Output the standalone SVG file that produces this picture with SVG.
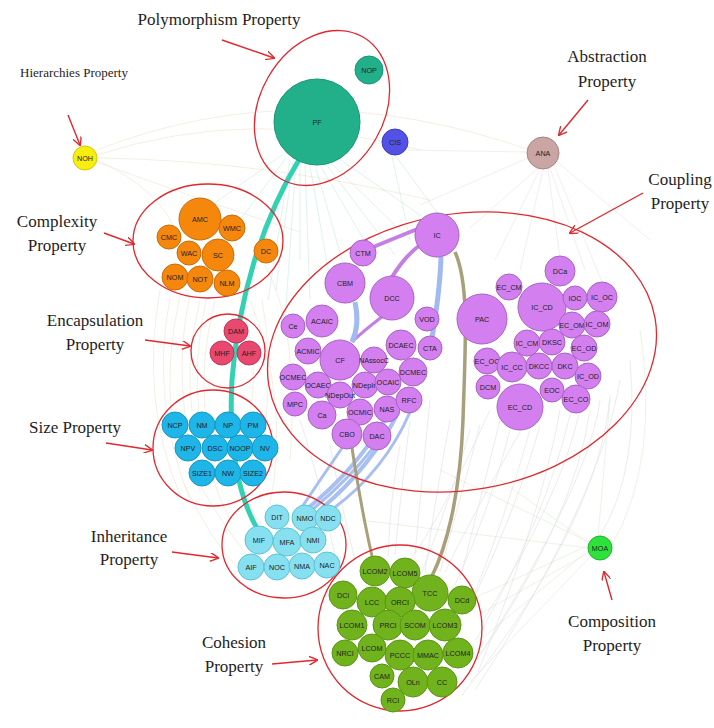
<svg xmlns="http://www.w3.org/2000/svg" width="714" height="728" viewBox="0 0 714 728">
<defs>
<marker id="ah" viewBox="0 0 10 10" refX="9" refY="5" markerWidth="9" markerHeight="9" orient="auto" markerUnits="userSpaceOnUse">
<path d="M0,0 L10,5 L0,10" fill="none" stroke="#e0282e" stroke-width="1.5"/>
</marker>
</defs>
<style>
.lbl{font-family:"Liberation Serif","Times New Roman",serif;font-size:17px;fill:#1e1e1e;text-anchor:middle}
.n text{font-family:"Liberation Sans",Arial,sans-serif;font-size:7.2px;fill:#222;text-anchor:middle;dominant-baseline:central}
.grp{fill:none;stroke:#e0282e;stroke-width:1.3}
.arr{stroke:#e0282e;stroke-width:1.4;fill:none;marker-end:url(#ah)}
.f{fill:none;stroke-width:0.7;opacity:0.45}
.poly circle{fill:#22b08a;stroke:#1a9574}
.cpx circle{fill:#f5870c;stroke:#c96d0a}
.enc circle{fill:#e9496f;stroke:#c2345a}
.siz circle{fill:#1eb5e9;stroke:#1596c4}
.inh circle{fill:#86e0f0;stroke:#5fc2d6}
.cpl circle{fill:#d47ff0;stroke:#a862c4}
.coh circle{fill:#70b31c;stroke:#5a9514}
</style>
<rect width="714" height="728" fill="#ffffff"/>

<g id="connectors">
<g class="f" stroke="#d8d0a8">
<path d="M97,155 Q250,105 420,150"/>
<path d="M97,158 Q260,160 430,200"/>
<path d="M97,162 Q200,200 300,232"/>
<path d="M97,150 Q300,70 530,150"/>
<path d="M97,160 Q160,190 175,230"/>
<path d="M180,296 Q165,360 172,420"/>
<path d="M200,300 Q185,360 192,412"/>
<path d="M215,300 Q200,360 205,410"/>
<path d="M262,300 Q272,350 266,420"/>
<path d="M170,298 Q150,400 190,500"/>
<path d="M250,300 Q290,400 270,505"/>
<path d="M190,296 Q170,380 200,490"/>
<path d="M240,298 Q260,360 250,412"/>
<path d="M160,290 Q140,400 180,495"/>
<path d="M206,300 Q180,420 230,520"/>
<path d="M265,265 Q300,330 290,460"/>
<path d="M200,485 Q220,520 250,560"/>
<path d="M240,487 Q250,510 265,530"/>
<path d="M185,485 Q210,540 240,570"/>
</g>
<g class="f" stroke="#9fd8c0">
<path d="M290,160 L268,300"/>
<path d="M296,162 L285,320"/>
<path d="M305,165 L310,300"/>
<path d="M315,165 L345,270"/>
<path d="M325,163 L395,255"/>
<path d="M338,158 L430,222"/>
<path d="M282,155 L205,210"/>
<path d="M300,164 L300,260"/>
<path d="M310,166 L330,280"/>
<path d="M395,155 L450,230"/>
<path d="M392,156 L410,240"/>
<path d="M293,161 L276,290"/>
<path d="M320,165 L370,250"/>
<path d="M330,162 L410,240"/>
<path d="M286,158 L240,220"/>
</g>
<g class="f" stroke="#e2c8c8">
<path d="M538,168 L470,228"/>
<path d="M543,170 L520,270"/>
<path d="M548,169 L560,258"/>
<path d="M554,165 L602,282"/>
<path d="M528,158 L420,205"/>
<path d="M530,152 L400,150"/>
<path d="M555,160 L650,240"/>
<path d="M540,169 L495,260"/>
<path d="M550,168 L585,270"/>
</g>
<g class="f" stroke="#bfdcae">
<path d="M589,545 L470,600"/>
<path d="M589,550 L480,640"/>
<path d="M598,537 L610,400"/>
<path d="M589,542 L440,470"/>
<path d="M591,556 L470,682"/>
<path d="M612,545 Q660,460 640,330"/>
<path d="M589,548 L360,520"/>
<path d="M590,544 L500,480"/>
<path d="M590,552 L478,615"/>
</g>
<g class="f" stroke="#c4c4c4">
<path d="M500,420 Q480,500 460,580"/>
<path d="M540,425 Q520,500 472,602"/>
<path d="M580,410 Q560,500 482,622"/>
<path d="M520,432 Q470,520 445,572"/>
<path d="M600,400 Q590,480 482,652"/>
<path d="M470,430 Q450,500 422,572"/>
<path d="M490,410 Q440,520 410,560"/>
<path d="M560,410 Q540,520 478,672"/>
<path d="M620,380 Q600,500 475,690"/>
<path d="M300,420 Q320,480 340,580"/>
<path d="M330,445 Q340,500 355,560"/>
<path d="M410,420 Q400,500 395,555"/>
<path d="M430,400 Q420,500 415,555"/>
<path d="M510,430 Q490,510 455,585"/>
<path d="M530,430 Q505,520 466,615"/>
<path d="M570,415 Q545,520 476,640"/>
<path d="M590,410 Q575,520 470,670"/>
<path d="M610,395 Q600,520 462,695"/>
<path d="M480,425 Q460,500 440,572"/>
<path d="M450,420 Q435,500 425,572"/>
<path d="M400,445 Q390,500 388,556"/>
<path d="M630,360 Q640,470 600,536"/>
</g>
<path d="M300,158 C262,220 238,300 232,380 C228,450 240,500 258,530" fill="none" stroke="#33d0b4" stroke-width="5"/>
<path d="M366,250 Q395,238 420,228" fill="none" stroke="#c47ee4" stroke-width="4"/>
<path d="M392,277 Q405,256 420,245" fill="none" stroke="#c47ee4" stroke-width="4"/>
<path d="M383,316 Q362,332 352,342" fill="none" stroke="#c47ee4" stroke-width="3"/>
<path d="M441,257 Q440,290 432,338" fill="none" stroke="#a2baf2" stroke-width="5"/>
<path d="M355,302 Q360,325 352,342" fill="none" stroke="#a2baf2" stroke-width="5"/>
<path d="M385,420 Q355,470 308,508" fill="none" stroke="#a8bff2" stroke-width="4"/>
<path d="M398,413 Q370,468 322,508" fill="none" stroke="#a8bff2" stroke-width="4"/>
<path d="M373,448 Q348,480 312,510" fill="none" stroke="#a8bff2" stroke-width="3"/>
<path d="M410,412 Q385,470 334,508" fill="none" stroke="#a8bff2" stroke-width="3"/>
<path d="M342,448 Q320,480 300,510" fill="none" stroke="#a8bff2" stroke-width="3"/>
<path d="M455,252 C470,285 465,350 463,420 C460,500 445,550 432,576" fill="none" stroke="#a8a07a" stroke-width="3.5"/>
<path d="M352,448 C360,500 366,530 372,556" fill="none" stroke="#a8a07a" stroke-width="3"/>
</g>

<ellipse class="grp" cx="322" cy="108" rx="62" ry="82" transform="rotate(30 322 108)"/>
<ellipse class="grp" cx="208" cy="241" rx="75" ry="57"/>
<circle class="grp" cx="228" cy="351" r="37"/>
<ellipse class="grp" cx="213" cy="448" rx="60" ry="58"/>
<ellipse class="grp" cx="284" cy="545" rx="62" ry="53"/>
<ellipse class="grp" cx="462" cy="352" rx="196" ry="138" transform="rotate(-10 462 352)"/>
<ellipse class="grp" cx="400" cy="628" rx="82" ry="83"/>

<g id="PF" class="n poly"><circle cx="317" cy="122" r="43"/><text x="317" y="122">PF</text></g>
<g id="NOP" class="n poly"><circle cx="369" cy="70" r="14"/><text x="369" y="70">NOP</text></g>
<g id="CIS" class="n"><circle cx="395" cy="142" r="13" fill="#5252e6" stroke="#3c3cc0"/><text x="395" y="142">CIS</text></g>
<g id="NOH" class="n"><circle cx="85" cy="158" r="12" fill="#f6ee10" stroke="#d6c800"/><text x="85" y="158">NOH</text></g>
<g id="ANA" class="n"><circle cx="543" cy="153" r="16" fill="#c9a5a3" stroke="#a88482"/><text x="543" y="153">ANA</text></g>
<g id="MOA" class="n"><circle cx="600" cy="548" r="12" fill="#2ee23c" stroke="#1fb42a"/><text x="600" y="548">MOA</text></g>

<g id="AMC" class="n cpx"><circle cx="200" cy="219" r="21"/><text x="200" y="219">AMC</text></g>
<g id="CMC" class="n cpx"><circle cx="169" cy="237" r="12"/><text x="169" y="237">CMC</text></g>
<g id="WMC" class="n cpx"><circle cx="232" cy="228" r="13"/><text x="232" y="228">WMC</text></g>
<g id="WAC" class="n cpx"><circle cx="189" cy="253" r="12"/><text x="189" y="253">WAC</text></g>
<g id="SC" class="n cpx"><circle cx="218" cy="255" r="16"/><text x="218" y="255">SC</text></g>
<g id="DC" class="n cpx"><circle cx="266" cy="251" r="12"/><text x="266" y="251">DC</text></g>
<g id="NOM" class="n cpx"><circle cx="175" cy="277" r="13"/><text x="175" y="277">NOM</text></g>
<g id="NOT" class="n cpx"><circle cx="200" cy="279" r="13"/><text x="200" y="279">NOT</text></g>
<g id="NLM" class="n cpx"><circle cx="227" cy="283" r="13"/><text x="227" y="283">NLM</text></g>

<g id="DAM" class="n enc"><circle cx="236" cy="331" r="12"/><text x="236" y="331">DAM</text></g>
<g id="MHF" class="n enc"><circle cx="222" cy="353" r="12"/><text x="222" y="353">MHF</text></g>
<g id="AHF" class="n enc"><circle cx="249" cy="353" r="12"/><text x="249" y="353">AHF</text></g>

<g id="NCP" class="n siz"><circle cx="175" cy="425" r="13"/><text x="175" y="425">NCP</text></g>
<g id="NM" class="n siz"><circle cx="202" cy="425" r="13"/><text x="202" y="425">NM</text></g>
<g id="NP" class="n siz"><circle cx="228" cy="425" r="13"/><text x="228" y="425">NP</text></g>
<g id="PM" class="n siz"><circle cx="253" cy="425" r="13"/><text x="253" y="425">PM</text></g>
<g id="NPV" class="n siz"><circle cx="188" cy="448" r="13"/><text x="188" y="448">NPV</text></g>
<g id="DSC" class="n siz"><circle cx="215" cy="448" r="13"/><text x="215" y="448">DSC</text></g>
<g id="NOOP" class="n siz"><circle cx="240" cy="448" r="13"/><text x="240" y="448">NOOP</text></g>
<g id="NV" class="n siz"><circle cx="265" cy="448" r="13"/><text x="265" y="448">NV</text></g>
<g id="SIZE1" class="n siz"><circle cx="202" cy="473" r="13"/><text x="202" y="473">SIZE1</text></g>
<g id="NW" class="n siz"><circle cx="228" cy="473" r="13"/><text x="228" y="473">NW</text></g>
<g id="SIZE2" class="n siz"><circle cx="253" cy="473" r="13"/><text x="253" y="473">SIZE2</text></g>

<g id="DIT" class="n inh"><circle cx="277" cy="517" r="12"/><text x="277" y="517">DIT</text></g>
<g id="NMO" class="n inh"><circle cx="305" cy="518" r="13"/><text x="305" y="518">NMO</text></g>
<g id="NDC" class="n inh"><circle cx="328" cy="518" r="13"/><text x="328" y="518">NDC</text></g>
<g id="MIF" class="n inh"><circle cx="259" cy="540" r="14"/><text x="259" y="540">MIF</text></g>
<g id="MFA" class="n inh"><circle cx="287" cy="542" r="14"/><text x="287" y="542">MFA</text></g>
<g id="NMI" class="n inh"><circle cx="313" cy="540" r="13"/><text x="313" y="540">NMI</text></g>
<g id="AIF" class="n inh"><circle cx="251" cy="567" r="13"/><text x="251" y="567">AIF</text></g>
<g id="NOC" class="n inh"><circle cx="277" cy="567" r="13"/><text x="277" y="567">NOC</text></g>
<g id="NMA" class="n inh"><circle cx="302" cy="566" r="13"/><text x="302" y="566">NMA</text></g>
<g id="NAC" class="n inh"><circle cx="327" cy="565" r="13"/><text x="327" y="565">NAC</text></g>

<g id="IC" class="n cpl"><circle cx="437" cy="235" r="22"/><text x="437" y="235">IC</text></g>
<g id="CTM" class="n cpl"><circle cx="363" cy="253" r="13"/><text x="363" y="253">CTM</text></g>
<g id="CBM" class="n cpl"><circle cx="345" cy="283" r="20"/><text x="345" y="283">CBM</text></g>
<g id="DCC" class="n cpl"><circle cx="392" cy="298" r="22"/><text x="392" y="298">DCC</text></g>
<g id="VOD" class="n cpl"><circle cx="427" cy="319" r="12"/><text x="427" y="319">VOD</text></g>
<g id="Ce" class="n cpl"><circle cx="293" cy="326" r="12"/><text x="293" y="326">Ce</text></g>
<g id="ACAIC" class="n cpl"><circle cx="322" cy="321" r="16"/><text x="322" y="321">ACAIC</text></g>
<g id="PAC" class="n cpl"><circle cx="482" cy="319" r="25"/><text x="482" y="319">PAC</text></g>
<g id="ACMIC" class="n cpl"><circle cx="308" cy="351" r="13"/><text x="308" y="351">ACMIC</text></g>
<g id="CF" class="n cpl"><circle cx="340" cy="360" r="20"/><text x="340" y="360">CF</text></g>
<g id="NAssocC" class="n cpl"><circle cx="374" cy="360" r="13"/><text x="374" y="360">NAssocC</text></g>
<g id="DCAEC" class="n cpl"><circle cx="401" cy="345" r="15"/><text x="401" y="345">DCAEC</text></g>
<g id="CTA" class="n cpl"><circle cx="430" cy="348" r="12"/><text x="430" y="348">CTA</text></g>
<g id="OCMEC" class="n cpl"><circle cx="293" cy="377" r="13"/><text x="293" y="377">OCMEC</text></g>
<g id="DCMEC" class="n cpl"><circle cx="413" cy="372" r="14"/><text x="413" y="372">DCMEC</text></g>
<g id="OCAEC" class="n cpl"><circle cx="318" cy="385" r="13"/><text x="318" y="385">OCAEC</text></g>
<g id="NDepIn" class="n cpl"><circle cx="365" cy="385" r="13"/><text x="365" y="385">NDepIn</text></g>
<g id="OCAIC" class="n cpl"><circle cx="388" cy="382" r="13"/><text x="388" y="382">OCAIC</text></g>
<g id="NDepOut" class="n cpl"><circle cx="340" cy="395" r="13"/><text x="340" y="395">NDepOut</text></g>
<g id="MPC" class="n cpl"><circle cx="295" cy="404" r="12"/><text x="295" y="404">MPC</text></g>
<g id="Ca" class="n cpl"><circle cx="322" cy="415" r="14"/><text x="322" y="415">Ca</text></g>
<g id="OCMIC" class="n cpl"><circle cx="360" cy="412" r="13"/><text x="360" y="412">OCMIC</text></g>
<g id="NAS" class="n cpl"><circle cx="387" cy="409" r="13"/><text x="387" y="409">NAS</text></g>
<g id="RFC" class="n cpl"><circle cx="409" cy="400" r="13"/><text x="409" y="400">RFC</text></g>
<g id="CBO" class="n cpl"><circle cx="347" cy="434" r="15"/><text x="347" y="434">CBO</text></g>
<g id="DAC" class="n cpl"><circle cx="377" cy="436" r="14"/><text x="377" y="436">DAC</text></g>

<g id="DCa" class="n cpl"><circle cx="560" cy="271" r="15"/><text x="560" y="271">DCa</text></g>
<g id="EC_CM" class="n cpl"><circle cx="509" cy="287" r="13"/><text x="509" y="287">EC_CM</text></g>
<g id="IC_CD" class="n cpl"><circle cx="542" cy="307" r="24"/><text x="542" y="307">IC_CD</text></g>
<g id="IOC" class="n cpl"><circle cx="575" cy="298" r="12"/><text x="575" y="298">IOC</text></g>
<g id="IC_OC" class="n cpl"><circle cx="602" cy="297" r="15"/><text x="602" y="297">IC_OC</text></g>
<g id="EC_OM" class="n cpl"><circle cx="572" cy="325" r="13"/><text x="572" y="325">EC_OM</text></g>
<g id="IC_OM" class="n cpl"><circle cx="597" cy="324" r="13"/><text x="597" y="324">IC_OM</text></g>
<g id="IC_CM" class="n cpl"><circle cx="527" cy="343" r="13"/><text x="527" y="343">IC_CM</text></g>
<g id="DKSC" class="n cpl"><circle cx="552" cy="342" r="13"/><text x="552" y="342">DKSC</text></g>
<g id="EC_OD" class="n cpl"><circle cx="584" cy="348" r="13"/><text x="584" y="348">EC_OD</text></g>
<g id="EC_OC" class="n cpl"><circle cx="487" cy="361" r="13"/><text x="487" y="361">EC_OC</text></g>
<g id="IC_CC" class="n cpl"><circle cx="512" cy="367" r="15"/><text x="512" y="367">IC_CC</text></g>
<g id="DKCC" class="n cpl"><circle cx="539" cy="366" r="13"/><text x="539" y="366">DKCC</text></g>
<g id="DKC" class="n cpl"><circle cx="565" cy="366" r="13"/><text x="565" y="366">DKC</text></g>
<g id="IC_OD" class="n cpl"><circle cx="588" cy="376" r="13"/><text x="588" y="376">IC_OD</text></g>
<g id="DCM" class="n cpl"><circle cx="488" cy="387" r="12"/><text x="488" y="387">DCM</text></g>
<g id="EOC" class="n cpl"><circle cx="552" cy="390" r="12"/><text x="552" y="390">EOC</text></g>
<g id="EC_CO" class="n cpl"><circle cx="576" cy="399" r="14"/><text x="576" y="399">EC_CO</text></g>
<g id="EC_CD" class="n cpl"><circle cx="520" cy="407" r="23"/><text x="520" y="407">EC_CD</text></g>

<g id="LCOM2" class="n coh"><circle cx="375" cy="571" r="15"/><text x="375" y="571">LCOM2</text></g>
<g id="LCOM5" class="n coh"><circle cx="405" cy="573" r="15"/><text x="405" y="573">LCOM5</text></g>
<g id="DCi" class="n coh"><circle cx="343" cy="595" r="14"/><text x="343" y="595">DCi</text></g>
<g id="TCC" class="n coh"><circle cx="430" cy="593" r="18"/><text x="430" y="593">TCC</text></g>
<g id="LCC" class="n coh"><circle cx="372" cy="602" r="15"/><text x="372" y="602">LCC</text></g>
<g id="ORCI" class="n coh"><circle cx="400" cy="602" r="15"/><text x="400" y="602">ORCI</text></g>
<g id="DCd" class="n coh"><circle cx="462" cy="600" r="14"/><text x="462" y="600">DCd</text></g>
<g id="LCOM1" class="n coh"><circle cx="352" cy="625" r="15"/><text x="352" y="625">LCOM1</text></g>
<g id="PRCI" class="n coh"><circle cx="388" cy="625" r="15"/><text x="388" y="625">PRCI</text></g>
<g id="SCOM" class="n coh"><circle cx="415" cy="625" r="15"/><text x="415" y="625">SCOM</text></g>
<g id="LCOM3" class="n coh"><circle cx="445" cy="625" r="16"/><text x="445" y="625">LCOM3</text></g>
<g id="NRCI" class="n coh"><circle cx="345" cy="653" r="13"/><text x="345" y="653">NRCI</text></g>
<g id="LCOM" class="n coh"><circle cx="372" cy="648" r="14"/><text x="372" y="648">LCOM</text></g>
<g id="PCCC" class="n coh"><circle cx="400" cy="655" r="15"/><text x="400" y="655">PCCC</text></g>
<g id="MMAC" class="n coh"><circle cx="428" cy="655" r="15"/><text x="428" y="655">MMAC</text></g>
<g id="LCOM4" class="n coh"><circle cx="458" cy="653" r="15"/><text x="458" y="653">LCOM4</text></g>
<g id="CAM" class="n coh"><circle cx="382" cy="676" r="12"/><text x="382" y="676">CAM</text></g>
<g id="OLn" class="n coh"><circle cx="413" cy="682" r="15"/><text x="413" y="682">OLn</text></g>
<g id="CC" class="n coh"><circle cx="442" cy="682" r="15"/><text x="442" y="682">CC</text></g>
<g id="RCI" class="n coh"><circle cx="393" cy="700" r="12"/><text x="393" y="700">RCI</text></g>

<g id="lbl-poly"><text class="lbl" x="219" y="25">Polymorphism Property</text><path class="arr" d="M222,40 L274,58"/></g>
<g id="lbl-hier"><text class="lbl" x="74" y="77" style="font-size:13px">Hierarchies Property</text><path class="arr" d="M68,115 L80,145"/></g>
<g id="lbl-abs"><text class="lbl" x="607" y="62">Abstraction</text><text class="lbl" x="607" y="87">Property</text><path class="arr" d="M588,100 L559,135"/></g>
<g id="lbl-coup"><text class="lbl" x="680" y="185">Coupling</text><text class="lbl" x="680" y="209">Property</text><path class="arr" d="M643,193 L570,233"/></g>
<g id="lbl-cpx"><text class="lbl" x="57" y="227">Complexity</text><text class="lbl" x="57" y="251">Property</text><path class="arr" d="M104,233 L134,244"/></g>
<g id="lbl-enc"><text class="lbl" x="95" y="326">Encapsulation</text><text class="lbl" x="95" y="350">Property</text><path class="arr" d="M145,340 L190,346"/></g>
<g id="lbl-size"><text class="lbl" x="75" y="433">Size Property</text><path class="arr" d="M106,443 L152,450"/></g>
<g id="lbl-inh"><text class="lbl" x="129" y="542">Inheritance</text><text class="lbl" x="129" y="565">Property</text><path class="arr" d="M172,552 L218,558"/></g>
<g id="lbl-coh"><text class="lbl" x="234" y="648">Cohesion</text><text class="lbl" x="234" y="672">Property</text><path class="arr" d="M272,664 L317,660"/></g>
<g id="lbl-comp"><text class="lbl" x="612" y="627">Composition</text><text class="lbl" x="612" y="651">Property</text><path class="arr" d="M612,600 L604,572"/></g>
</svg>
